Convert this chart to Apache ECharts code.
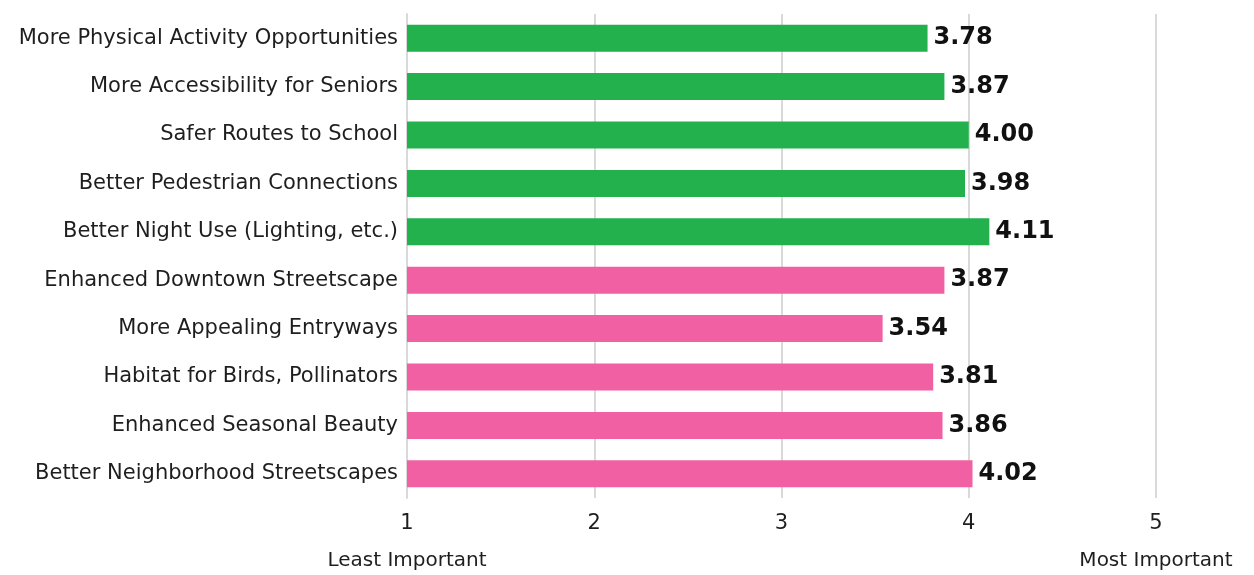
<!DOCTYPE html>
<html>
<head>
<meta charset="utf-8">
<script src="https://cdn.jsdelivr.net/npm/echarts@6/dist/echarts.min.js"></script>
<style>
  html, body { margin: 0; padding: 0; background: #fff; }
  #chart { width: 1254px; height: 575px; }
</style>
</head>
<body>
<div id="chart"></div>
<script>
// Survey priorities, listed top to bottom
const categories = [
  'More Physical Activity Opportunities',
  'More Accessibility for Seniors',
  'Safer Routes to School',
  'Better Pedestrian Connections',
  'Better Night Use (Lighting, etc.)',
  'Enhanced Downtown Streetscape',
  'More Appealing Entryways',
  'Habitat for Birds, Pollinators',
  'Enhanced Seasonal Beauty',
  'Better Neighborhood Streetscapes'
];
const scores = [3.78, 3.87, 4.00, 3.98, 4.11, 3.87, 3.54, 3.81, 3.86, 4.02];
// 'mobility' group in green, 'beautification' group in pink
const groups = ['mobility', 'mobility', 'mobility', 'mobility', 'mobility',
                'beauty', 'beauty', 'beauty', 'beauty', 'beauty'];
const scaleTicks = [1, 2, 3, 4, 5];
const scaleEnds = { 1: 'Least Important', 5: 'Most Important' };

const groupColor = { mobility: '#22B14C', beauty: '#F060A2' };
const FONT = '"DejaVu Sans", "Open Sans", sans-serif';

const chart = echarts.init(document.getElementById('chart'), null, { renderer: 'canvas' });

chart.setOption({
  animation: false,
  backgroundColor: '#ffffff',
  grid: { left: 407, right: 98, top: 14, bottom: 77, containLabel: false },
  xAxis: {
    type: 'value',
    min: 1,
    max: 5,
    interval: 1,
    axisLine: { show: false },
    axisTick: { show: false },
    splitLine: { show: true, lineStyle: { color: '#d9d9d9', width: 2 } },
    axisLabel: {
      margin: 13,
      fontFamily: FONT,
      formatter: function (v) {
        if (scaleTicks.indexOf(v) < 0) return '';
        const end = scaleEnds[v];
        return end ? '{n|' + v + '}\n{d|' + end + '}' : '{n|' + v + '}';
      },
      rich: {
        n: { fontSize: 21, color: '#1e1e1e', fontFamily: FONT, lineHeight: 26 },
        d: { fontSize: 20, color: '#1e1e1e', fontFamily: FONT, lineHeight: 34, padding: [14, 0, 0, 0] }
      }
    }
  },
  yAxis: {
    type: 'category',
    inverse: true,
    data: categories,
    axisLine: { show: true, lineStyle: { color: '#d9d9d9', width: 2 } },
    axisTick: { show: false },
    axisLabel: {
      margin: 9,
      fontSize: 21,
      color: '#1e1e1e',
      fontFamily: FONT
    }
  },
  series: [{
    type: 'bar',
    barWidth: 27,
    data: scores.map(function (v, i) {
      return { value: v, itemStyle: { color: groupColor[groups[i]] } };
    }),
    label: {
      show: true,
      position: 'right',
      distance: 6,
      fontSize: 24,
      fontWeight: 'bold',
      color: '#111',
      fontFamily: FONT,
      formatter: function (p) { return p.value.toFixed(2); }
    }
  }]
});
</script>
</body>
</html>
